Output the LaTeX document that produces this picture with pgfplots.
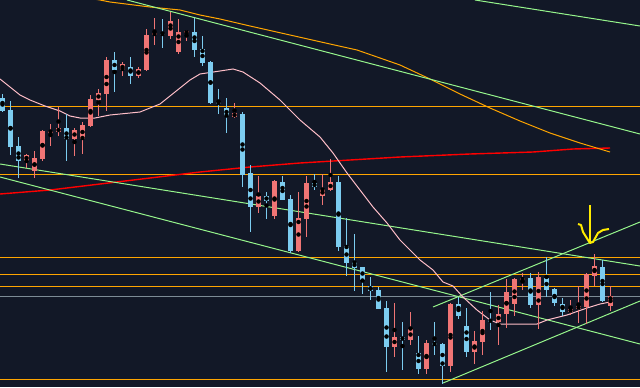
\documentclass[border=0pt]{standalone}
\usepackage{pgfplots}
\pgfplotsset{compat=1.18}
\usepackage{pgfplotstable}
\definecolor{bgc}{RGB}{18,24,39}
\definecolor{upc}{RGB}{240,117,117}
\definecolor{dnc}{RGB}{124,204,240}
\definecolor{orl}{RGB}{255,165,0}
\definecolor{grl}{RGB}{150,245,140}
\definecolor{pkl}{RGB}{255,190,200}
\definecolor{gyl}{RGB}{125,140,150}
\definecolor{yel}{RGB}{255,235,0}
\definecolor{rdl}{RGB}{255,0,0}

% pixel-based price positions (y grows downward)
\pgfplotstableread{
k O H L C
3 161 154 168 155
4 171 151 178 158
5 159 130 161 131
6 132 124 146 131
7 132 107 136 128
9 139 128 156 130
10 139 122 154 125
11 126 95 127 99
12 100 89 116 93
13 94 57 111 60
15 70 62 76 64
17 76 67 78 69
18 70 29 71 35
19 35 18 45 33
21 36 12 39 21
22 52 19 54 32
23 33 30 41 31.5
29 117 103 118 113
32 207 176 213 196
34 216 180 219 181
37 251 192 252 218
38 219 176 237 183
40 196 174 205 189
41 190 159 191 182
49 347 303 357 337
51 340 312 345 329
53 369 340 374 343
56 366 303 372 304
59 352 331 364 341
60 342 311 355 320
62 322 305 345 314
63 314 279 328 292
64 304 278 316 279
65 280 273 290 278
67 305 272 329 277
71 312 300 315 309
72 309 286 323 306
73 307 273 324 274
74 276 254 286 266
76 306 286 311 296
}\redtab

\pgfplotstableread{
k O H L C
0 98 94 112 111
1 110 101 155 147
2 146 137 178 161
8 128 114 161 139
14 60 52 92 70
16 67 57 84 76
20 33 19 48 35
24 32 18 57 50
25 49 36 66 63
26 62 61 104 103
27 102 89 114 104
28 108 98 133 116
30 114 112 187 175
31 173 165 232 207
33 196 192 219 201
35 182 176 200 200
36 199 195 253 251
39 183 174 190 187
42 182 176 251 247
43 246 218 276 263
44 262 234 291 268
45 267 267 294 280
46 286 277 300 291
47 290 287 309 309
48 308 301 372 347
50 337 322 370 340
52 353 336 374 369
54 343 322 355 345
55 344 343 384 366
57 304 297 319 316
58 326 308 357 352
61 320 292 330 321.5
66 278 273 308 305
68 278 257 297 290
69 289 288 306 303
70 304 298 316 312
75 267 260 302 301
}\bluetab

\newcommand{\candles}[2]{%
  \addplot[only marks, mark=none, forget plot,
    error bars/.cd, y dir=both, y explicit, error mark=none,
    error bar style={line width=1bp, color=#2}]
    table[x expr=8*\thisrow{k}+2.5, y expr=(\thisrow{H}+\thisrow{L})/2,
          y error expr=(\thisrow{L}-\thisrow{H})/2] {#1};
  \addplot[only marks, mark=none, forget plot,
    error bars/.cd, y dir=both, y explicit, error mark=none,
    error bar style={line width=5bp, color=#2}]
    table[x expr=8*\thisrow{k}+2.5, y expr=(\thisrow{O}+\thisrow{C})/2,
          y error expr=abs(\thisrow{C}-\thisrow{O})/2] {#1};
}

\begin{document}
\begin{tikzpicture}
\begin{axis}[
  width=640bp, height=387bp, scale only axis,
  xmin=0, xmax=640, ymin=0, ymax=387, y dir=reverse,
  axis line style={draw=none}, ticks=none,
  axis background/.style={fill=bgc},
  clip=true,
]
% horizontal levels
\addplot[orl, line width=1.2bp] coordinates {(0,106.5) (640,106.5)};
\addplot[orl, line width=1.2bp] coordinates {(0,174.5) (640,174.5)};
\addplot[orl, line width=1.2bp] coordinates {(0,257.5) (640,257.5)};
\addplot[orl, line width=1.2bp] coordinates {(0,274.5) (640,274.5)};
\addplot[orl, line width=1.2bp] coordinates {(0,286.5) (640,286.5)};
\addplot[gyl, line width=1.2bp] coordinates {(0,296.5) (640,296.5)};
\addplot[orl, line width=1.2bp] coordinates {(0,379.5) (640,379.5)};
% long red MA
\addplot[rdl, line width=1.4bp] coordinates {(0,194) (50,190) (100,184) (150,178) (200,172) (250,167) (300,163) (350,160) (400,157) (470,154) (533,152) (573,149) (610,148)};
% orange MA
\addplot[orl, line width=1bp] coordinates {(80,-3) (100,0) (110,2) (150,7) (180,10) (200,15) (220,19) (250,26) (290,35) (330,44) (357,50) (380,58) (400,65) (430,79) (460,94) (490,108) (520,121) (550,133) (580,143) (610,152)};
% green trend lines
\addplot[grl, line width=1bp] coordinates {(475,0) (640,26)};
\addplot[grl, line width=1bp] coordinates {(127,0) (640,134)};
\addplot[grl, line width=1bp] coordinates {(0,164) (640,266)};
\addplot[grl, line width=1bp] coordinates {(0,177) (640,344)};
\addplot[grl, line width=1bp] coordinates {(433,307) (640,222)};
\addplot[grl, line width=1bp] coordinates {(443,383) (640,301)};
% pink MA
\addplot[pkl, line width=1bp] coordinates {(0,79) (20,95) (30,100) (45,106) (60,111) (70,116) (80,118) (95,118) (110,115) (130,113) (140,112) (150,108) (160,104) (170,96) (180,88) (190,80) (200,74) (220,71) (233,69) (243,72) (260,83) (280,100) (300,120) (320,137) (333,153) (347,173) (360,190) (373,207) (387,223) (400,240) (420,260) (433,270) (443,282) (453,286) (463,297) (477,310) (490,320) (500,324) (520,324) (537,324) (547,320) (567,315) (587,308) (600,304) (610,302)};
% candles
\candles{\redtab}{upc}
\candles{\bluetab}{dnc}
% yellow hand-drawn arrow
\addplot[yel, line width=2bp] coordinates {(590,205) (590,243)};
\addplot[yel, line width=2bp, line join=round] coordinates {(578,224) (581,225) (583,232) (588,240) (590,243) (593,242) (598,233) (603,230) (609,229)};
\end{axis}
\end{tikzpicture}
\end{document}
